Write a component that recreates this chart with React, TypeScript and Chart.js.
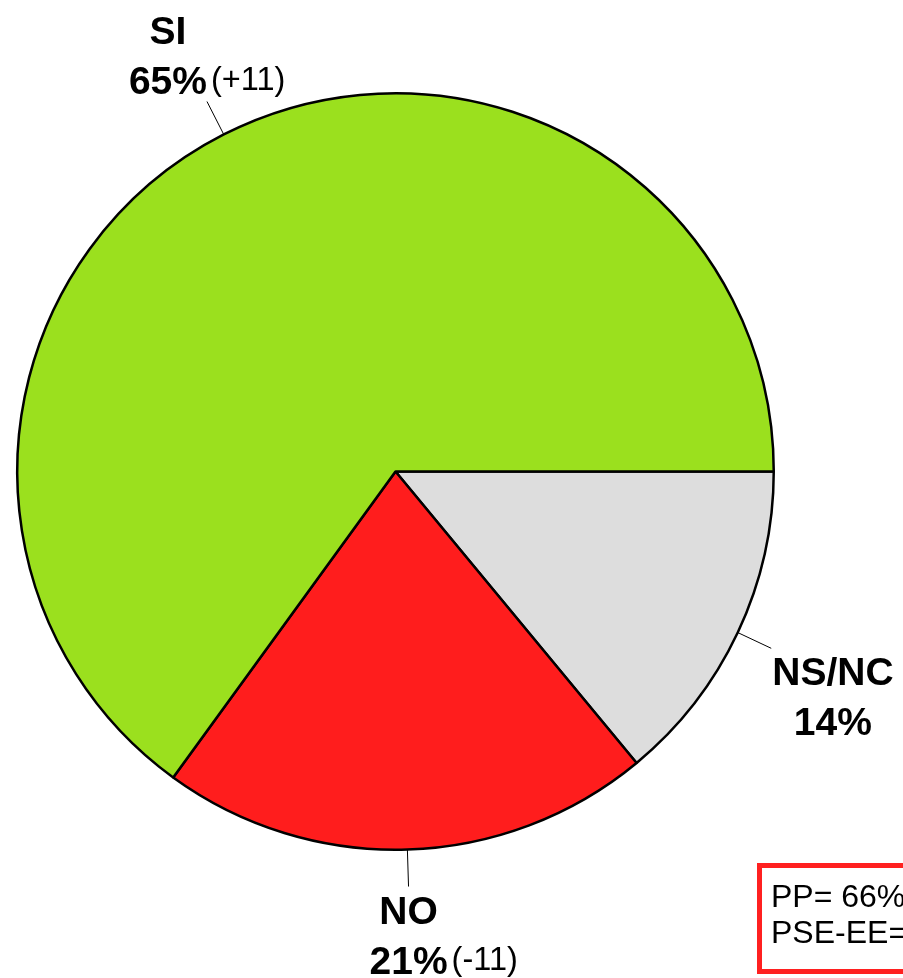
import React, { useEffect, useRef } from "react";
import { Chart, registerables } from "chart.js";
Chart.register(...registerables);

const categories = ["NS/NC", "NO", "SI"];
const values = [14, 21, 65];
const pctLabels = ["14%", "21%", "65%"];
const changes = ["", "(-11)", "(+11)"];
const colors = ["#DDDDDD", "#FF1D1D", "#9BE01E"];
const noteLines = ["PP= 66%", "PSE-EE="];

const FONT = "'Liberation Sans', Arial, sans-serif";

const labelPlugin = {
  id: "pieLabels",
  afterDatasetsDraw(chart: any) {
    const ctx = chart.ctx as CanvasRenderingContext2D;
    const meta = chart.getDatasetMeta(0);
    ctx.save();
    meta.data.forEach((arc: any, i: number) => {
      const { x, y, startAngle, endAngle, outerRadius } = arc.getProps(
        ["x", "y", "startAngle", "endAngle", "outerRadius"],
        true
      );
      const mid = (startAngle + endAngle) / 2;
      const c = Math.cos(mid);
      const s = Math.sin(mid);
      const x1 = x + c * outerRadius;
      const y1 = y + s * outerRadius;
      const x2 = x + c * (outerRadius + 37);
      const y2 = y + s * (outerRadius + 37);
      ctx.strokeStyle = "#000";
      ctx.lineWidth = 1;
      ctx.beginPath();
      ctx.moveTo(x1, y1);
      ctx.lineTo(x2, y2);
      ctx.stroke();

      ctx.font = `bold 39px ${FONT}`;
      const nameW = ctx.measureText(categories[i]).width;
      const pctW = ctx.measureText(pctLabels[i]).width;
      const blockW = Math.max(nameW, pctW);
      let cx: number;
      if (c > 0.3) cx = x2 + 1 + blockW / 2;
      else if (c < -0.3) cx = x2 - blockW / 2;
      else cx = x2;
      let b1: number, b2: number;
      if (s < 0) {
        b2 = y2 - 8;
        b1 = b2 - 50;
      } else {
        b1 = y2 + 37;
        b2 = b1 + 50;
      }
      ctx.fillStyle = "#000";
      ctx.textAlign = "center";
      ctx.textBaseline = "alphabetic";
      ctx.fillText(categories[i], cx, b1);
      ctx.fillText(pctLabels[i], cx, b2);
      if (changes[i]) {
        ctx.font = `32.5px ${FONT}`;
        ctx.textAlign = "left";
        ctx.fillText(changes[i], cx + pctW / 2 + 4, b2 - 4);
      }
    });

    // note box
    ctx.strokeStyle = "#FF2020";
    ctx.lineWidth = 5;
    ctx.strokeRect(759.5, 865.5, 300, 106);
    ctx.fillStyle = "#000";
    ctx.font = `32px ${FONT}`;
    ctx.textAlign = "left";
    ctx.fillText(noteLines[0], 771, 907);
    ctx.fillText(noteLines[1], 771, 943);
    ctx.restore();
  },
};

export default function App() {
  const ref = useRef<HTMLCanvasElement>(null);
  useEffect(() => {
    if (!ref.current) return;
    const chart = new Chart(ref.current, {
      type: "pie",
      data: {
        labels: categories,
        datasets: [
          {
            data: values,
            backgroundColor: colors,
            borderColor: "#000",
            borderWidth: 2.5,
          },
        ],
      },
      options: {
        responsive: false,
        animation: false,
        rotation: 90,
        layout: { padding: { left: 16, right: 128, top: 92, bottom: 127 } },
        plugins: {
          legend: { display: false },
          tooltip: { enabled: false },
        },
      },
      plugins: [labelPlugin],
    });
    return () => chart.destroy();
  }, []);
  return (
    <div style={{ position: "absolute", left: 0, top: 0, width: 903, height: 978, background: "#fff" }}>
      <canvas ref={ref} width={903} height={978} />
    </div>
  );
}
